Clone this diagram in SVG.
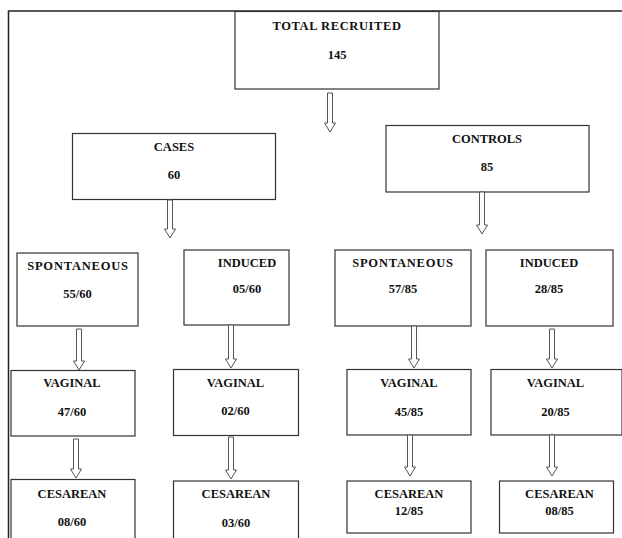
<svg xmlns="http://www.w3.org/2000/svg" width="622" height="538" viewBox="0 0 622 538">
<style>
.box{fill:#fff;stroke:#333;stroke-width:1.2}
.t{font-family:"Liberation Serif","Times New Roman",serif;font-weight:bold;font-size:12.5px;fill:#111;text-anchor:middle}
.sp{letter-spacing:0.8px}
.arr{fill:#fff;stroke:#555;stroke-width:1}
.frame{stroke:#222;stroke-width:1.5;fill:none}
</style>
<rect x="0" y="0" width="622" height="538" fill="#fff"/>
<path class="frame" d="M8.5,540 V11 H622"/>
<g id="total"><rect class="box" x="235" y="11.5" width="204" height="77.5"/><text class="t" x="337" y="30" style="letter-spacing:0.6px">TOTAL RECRUITED</text><text class="t" x="337" y="59">145</text></g>
<g id="cases"><rect class="box" x="72.5" y="133.5" width="203" height="66"/><text class="t" x="174" y="151">CASES</text><text class="t" x="174" y="179">60</text></g>
<g id="controls"><rect class="box" x="386" y="125.5" width="203" height="66.5"/><text class="t" x="487" y="143">CONTROLS</text><text class="t" x="487" y="171">85</text></g>
<g id="spont1"><rect class="box" x="17" y="253" width="121" height="73"/><text class="t sp" x="78" y="270">SPONTANEOUS</text><text class="t" x="77.5" y="298">55/60</text></g>
<g id="ind1"><rect class="box" x="184" y="250" width="105" height="75"/><text class="t" x="247" y="267">INDUCED</text><text class="t" x="247" y="293">05/60</text></g>
<g id="spont2"><rect class="box" x="335" y="250" width="136" height="76"/><text class="t sp" x="403" y="267">SPONTANEOUS</text><text class="t" x="403" y="293">57/85</text></g>
<g id="ind2"><rect class="box" x="486" y="250" width="127" height="76"/><text class="t" x="549" y="267">INDUCED</text><text class="t" x="549" y="293">28/85</text></g>
<g id="vag1"><rect class="box" x="11" y="370.5" width="124" height="65.5"/><text class="t" x="72" y="387">VAGINAL</text><text class="t" x="72" y="416">47/60</text></g>
<g id="vag2"><rect class="box" x="173.5" y="369.5" width="125" height="66"/><text class="t" x="235.5" y="387">VAGINAL</text><text class="t" x="235.5" y="415">02/60</text></g>
<g id="vag3"><rect class="box" x="347" y="369.5" width="124" height="65.5"/><text class="t" x="409" y="387">VAGINAL</text><text class="t" x="409" y="416">45/85</text></g>
<g id="vag4"><rect class="box" x="491" y="369.5" width="131" height="65.5"/><text class="t" x="555.5" y="387">VAGINAL</text><text class="t" x="555.5" y="416">20/85</text></g>
<g id="ces1"><rect class="box" x="11" y="479.5" width="124" height="70"/><text class="t" x="72" y="498">CESAREAN</text><text class="t" x="72" y="526">08/60</text></g>
<g id="ces2"><rect class="box" x="173.5" y="481" width="125" height="70"/><text class="t" x="236" y="498">CESAREAN</text><text class="t" x="236" y="527">03/60</text></g>
<g id="ces3"><rect class="box" x="347" y="481" width="124" height="52"/><text class="t" x="409" y="498">CESAREAN</text><text class="t" x="409" y="515">12/85</text></g>
<g id="ces4"><rect class="box" x="499.5" y="481" width="114" height="52"/><text class="t" x="559.5" y="498">CESAREAN</text><text class="t" x="559.5" y="515">08/85</text></g>
<g id="connectors">
<polygon class="arr" points="327.5,93 332.5,93 332.5,123 335.5,123 330,132 324.5,123 327.5,123"/>
<polygon class="arr" points="167.5,200 172.5,200 172.5,229 175.5,229 170,238 164.5,229 167.5,229"/>
<polygon class="arr" points="479.5,192 484.5,192 484.5,225 487.5,225 482,234 476.5,225 479.5,225"/>
<polygon class="arr" points="76.5,329 81.5,329 81.5,361 84.5,361 79,370 73.5,361 76.5,361"/>
<polygon class="arr" points="228.5,325 233.5,325 233.5,359 236.5,359 231,368 225.5,359 228.5,359"/>
<polygon class="arr" points="411.5,326 416.5,326 416.5,359 419.5,359 414,368 408.5,359 411.5,359"/>
<polygon class="arr" points="549.5,329 554.5,329 554.5,359 557.5,359 552,368 546.5,359 549.5,359"/>
<polygon class="arr" points="73.5,439 78.5,439 78.5,469 81.5,469 76,478 70.5,469 73.5,469"/>
<polygon class="arr" points="228.5,437 233.5,437 233.5,470 236.5,470 231,479 225.5,470 228.5,470"/>
<polygon class="arr" points="407.5,435 412.5,435 412.5,467 415.5,467 410,476 404.5,467 407.5,467"/>
<polygon class="arr" points="549.5,435 554.5,435 554.5,467 557.5,467 552,476 546.5,467 549.5,467"/>
</g>
</svg>
